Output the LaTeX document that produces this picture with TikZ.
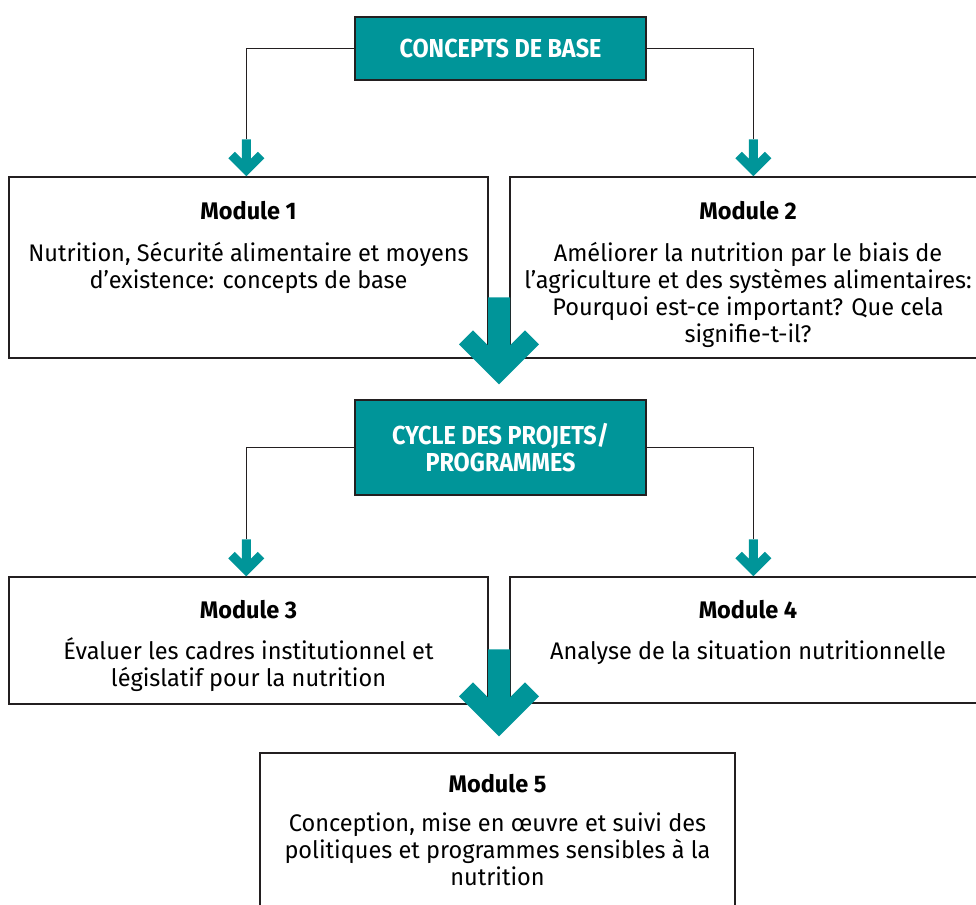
\documentclass[tikz,border=0pt]{standalone}
\usepackage{fontspec}
\setmainfont[FakeStretch=0.98]{Fira Sans}
\newfontfamily\headfont[FakeStretch=0.9]{Fira Sans}
\usetikzlibrary{calc}
\definecolor{brandteal}{RGB}{0,149,153}
\definecolor{inkline}{RGB}{35,31,32}

% chevron arrows, drawn relative to their tip
\newcommand\bigchevron[1]{%
  \fill[brandteal,shift={(#1)}] (-11,-87) -- (11,-87) -- (11,-39) -- (26,-54)
    -- (40,-40) -- (0,0) -- (-40,-40) -- (-26,-54) -- (-11,-39) -- cycle;}
\newcommand\smallchevron[1]{%
  \fill[brandteal,shift={(#1)}] (-4.5,-37) -- (4.5,-37) -- (4.5,-17.5) -- (11.5,-24.5)
    -- (18,-18) -- (0,0) -- (-18,-18) -- (-11.5,-24.5) -- (-4.5,-17.5) -- cycle;}

\begin{document}
\begin{tikzpicture}[x=1pt,y=-1pt,
  conn/.style={draw=inkline,line width=1.2pt},
  modbox/.style={draw=inkline,line width=1.4pt,fill=white,inner sep=0pt},
  headbox/.style={draw=inkline,line width=1.4pt,fill=brandteal,inner sep=0pt,
    text=white,align=center,
    font=\headfont\bfseries\fontsize{26}{27}\selectfont},
  modtitle/.style={inner sep=0pt,anchor=base,font=\bfseries\fontsize{24}{27}\selectfont},
  modbody/.style={inner sep=0pt,anchor=north,align=center,
    font=\fontsize{24}{27}\selectfont}]
\useasboundingbox (0,0) rectangle (976,904);

% header boxes
\node[headbox,minimum width=291,minimum height=63] (top) at (500.5,48.5)
  {CONCEPTS DE BASE};
\node[headbox,minimum width=291,minimum height=95] (cyc) at (500.5,447.5)
  {CYCLE DES PROJETS/\\PROGRAMMES};

% module boxes
\node[modbox,minimum width=479,minimum height=181] (m1) at (248.5,267.5) {};
\node[modbox,minimum width=476,minimum height=181] (m2) at (748,267.5) {};
\node[modbox,minimum width=479,minimum height=127] (m3) at (248.5,640.5) {};
\node[modbox,minimum width=476,minimum height=126] (m4) at (748,640) {};
\node[modbox,minimum width=475,minimum height=170] (m5) at (497.5,838) {};

% arrow tips
\coordinate (t1) at ($(m1.north west)+(238,0)$);
\coordinate (t2) at ($(m2.north west)+(244,0)$);
\coordinate (t3) at ($(m3.north west)+(238,0)$);
\coordinate (t4) at ($(m4.north west)+(244,0)$);
\coordinate (s1) at ($(t1)+(0,-37)$);
\coordinate (s2) at ($(t2)+(0,-37)$);
\coordinate (s3) at ($(t3)+(0,-37)$);
\coordinate (s4) at ($(t4)+(0,-37)$);
\coordinate (g1) at ($(m1.south east)!0.5!(m2.south west)$);
\coordinate (g2) at ($(m3.south east)!0.5!(m4.south west)$);
\coordinate (b1) at ($(g1 |- cyc.north)+(0,-15)$);
\coordinate (b2) at ($(g2 |- m5.north)+(0,-16)$);

% connectors
\draw[conn] (top.west) -| (s1);
\draw[conn] (top.east) -| (s2);
\draw[conn] (cyc.west) -| (s3);
\draw[conn] (cyc.east) -| (s4);
\smallchevron{t1}
\smallchevron{t2}
\smallchevron{t3}
\smallchevron{t4}
\bigchevron{b1}
\bigchevron{b2}

% module texts
\node[modtitle] at ($(m1.north)+(0,43)$) {Module 1};
\node[modbody] at ($(m1.north)+(0,61)$) {\rule{0pt}{24pt}Nutrition, Sécurité alimentaire et moyens\\d’existence: concepts de base};
\node[modtitle] at ($(m2.north)+(0,43)$) {Module 2};
\node[modbody] at ($(m2.north)+(0,61)$) {\rule{0pt}{24pt}Améliorer la nutrition par le biais de\\l’agriculture et des systèmes alimentaires:\\Pourquoi est-ce important? Que cela\\signifie-t-il?};
\node[modtitle] at ($(m3.north)+(0,42)$) {Module 3};
\node[modbody] at ($(m3.north)+(0,59)$) {\rule{0pt}{24pt}Évaluer les cadres institutionnel et\\législatif pour la nutrition};
\node[modtitle] at ($(m4.north)+(0,42)$) {Module 4};
\node[modbody] at ($(m4.north)+(0,59)$) {\rule{0pt}{24pt}Analyse de la situation nutritionnelle};
\node[modtitle] at ($(m5.north)+(0,40)$) {Module 5};
\node[modbody] at ($(m5.north)+(0,55)$) {\rule{0pt}{24pt}Conception, mise en œuvre et suivi des\\politiques et programmes sensibles à la\\nutrition};
\end{tikzpicture}
\end{document}
